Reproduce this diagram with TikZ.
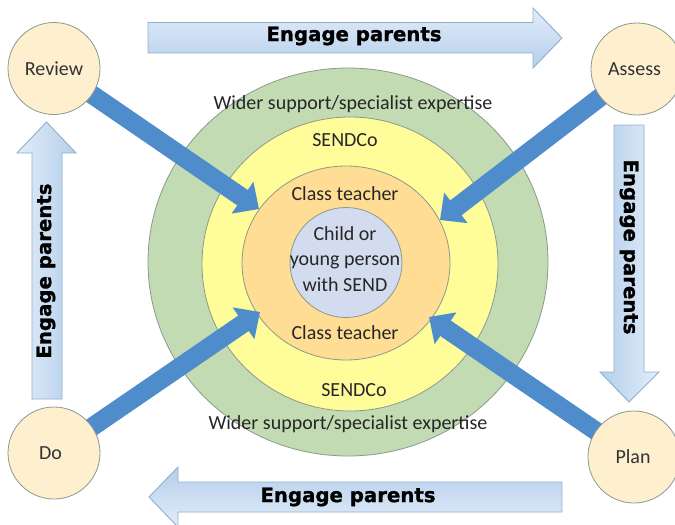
\documentclass[tikz,border=0pt]{standalone}
\usepackage{fontspec}
\setmainfont{Carlito}
\newfontfamily\heavyfont[FakeBold=1.2]{DejaVu Sans Bold}
\usetikzlibrary{arrows.meta}
\pgfdeclarelayer{rings}
\pgfdeclarelayer{links}
\pgfsetlayers{rings,links,main}
\definecolor{ringgreen}{HTML}{C3DBB3}
\definecolor{ringyellow}{HTML}{FFFC9A}
\definecolor{ringorange}{HTML}{FFDD94}
\definecolor{ringblue}{HTML}{D2DCEE}
\definecolor{stagefill}{HTML}{FEEFCF}
\definecolor{linkblue}{HTML}{4F8CCB}
\definecolor{edgegrey}{HTML}{8A9A8C}
\definecolor{bandedge}{HTML}{8FB0CE}
\definecolor{bandlight}{HTML}{E3EDF8}
\definecolor{banddark}{HTML}{B4CFEC}
\tikzset{
  x=0.75pt,y=-0.75pt,
  ring/.style={draw=edgegrey,line width=0.6pt},
  stage/.style={circle,draw=edgegrey,line width=0.6pt,fill=stagefill,minimum size=69pt,inner sep=0pt,text=black!80,font=\fontsize{15}{18}\selectfont},
  link/.style={draw=linkblue,line width=14pt,-{Triangle[length=15pt,width=28pt,fill=linkblue]}},
  band/.style={draw=bandedge,line width=0.7pt},
  bandtext/.style={font=\heavyfont\fontsize{14.8}{16}\selectfont,text=black,inner sep=0pt},
  ringtext/.style={font=\fontsize{15}{18}\selectfont,text=black!85,align=center,inner sep=0pt},
}
\begin{document}
\begin{tikzpicture}
\useasboundingbox (0,0) rectangle (675,525);
\clip (0,0) rectangle (675,525);
\begin{pgfonlayer}{rings}
\fill[white] (0,0) rectangle (675,525);
\draw[ring,fill=ringgreen] (348,262) ellipse [x radius=200,y radius=194];
\draw[ring,fill=ringyellow] (350,264) ellipse [x radius=148,y radius=147];
\draw[ring,fill=ringorange] (346,263) ellipse [x radius=104,y radius=97];
\draw[ring,fill=ringblue] (346,262.5) ellipse [x radius=56,y radius=55];
\end{pgfonlayer}
\node[stage] (review) at (54,68.5) {Review};
\node[stage] (assess) at (637,69) {Assess\kern3.75pt\relax};
\node[stage] (do) at (54,453) {Do\kern5.25pt\relax};
\node[stage] (plan) at (634,457) {Plan\kern1.5pt\relax};
\coordinate (tipreview) at (259,209);
\coordinate (tipassess) at (440,220);
\coordinate (tipdo) at (260,312);
\coordinate (tipplan) at (429,317);
\begin{pgfonlayer}{links}
\draw[link] (review.center) -- (tipreview);
\draw[link] (assess.center) -- (tipassess);
\draw[link] (do.center) -- (tipdo);
\draw[link] (plan.center) -- (tipplan);
\end{pgfonlayer}
\node[ringtext] (wider1) at (353,104) {Wider support/specialist expertise};
\node[ringtext] (sendco1) at (345,140) {SENDCo};
\node[ringtext] (class1) at (345,194) {Class teacher};
\node[ringtext,font=\fontsize{15}{19}\selectfont] (child) at (345,259) {Child or\\young person\\with SEND};
\node[ringtext] (class2) at (345,333) {Class teacher};
\node[ringtext] (sendco2) at (354,390) {SENDCo};
\node[ringtext] (wider2) at (348,424) {Wider support/specialist expertise};
% bands
\draw[band,top color=bandlight,bottom color=banddark] (148,22.5) -- (533,22.5) -- (533,8) -- (562,38) -- (533,68) -- (533,53) -- (148,53) -- cycle;
\node[bandtext] (top) at (354,36) {Engage parents};
\draw[band,left color=banddark,right color=bandlight] (614,125) -- (644,125) -- (644,372) -- (659,372) -- (629,402) -- (600,372) -- (614,372) -- cycle;
\node[bandtext,rotate=-90] (right) at (629,247) {Engage parents};
\draw[band,top color=banddark,bottom color=bandlight] (562,482) -- (178,482) -- (178,467) -- (149,497) -- (178,527) -- (178,512) -- (562,512) -- cycle;
\node[bandtext] (bottom) at (348,497) {Engage parents};
\draw[band,left color=bandlight,right color=banddark] (32,399) -- (62,399) -- (62,153) -- (76,153) -- (46.5,122) -- (17,153) -- (32,153) -- cycle;
\node[bandtext,rotate=90] (left) at (46,271) {Engage parents};
\end{tikzpicture}
\end{document}
